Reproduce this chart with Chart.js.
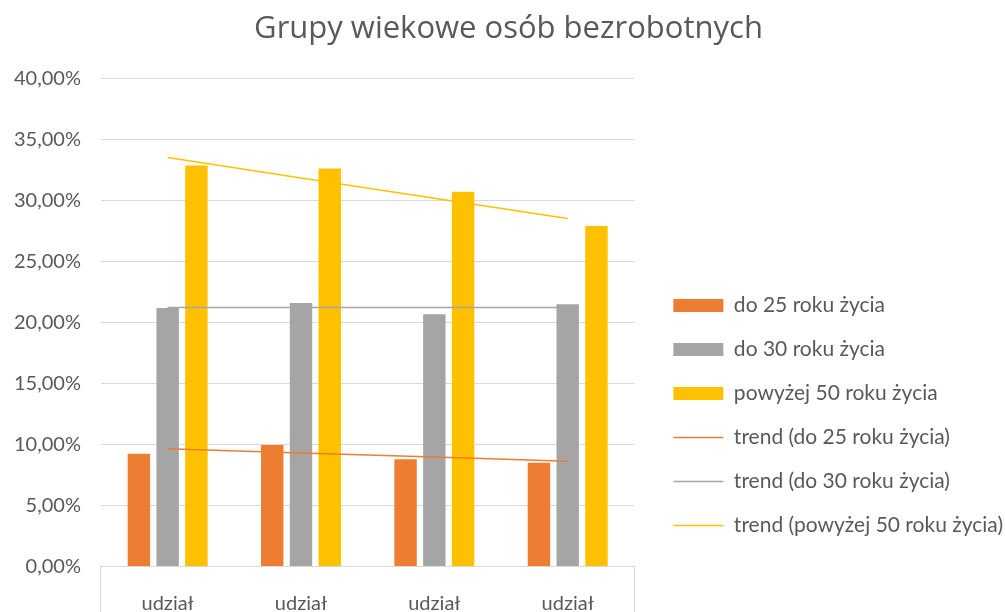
<!DOCTYPE html>
<html>
<head>
<meta charset="utf-8">
<script src="https://cdn.jsdelivr.net/npm/chart.js@4"></script>
<style>
  html, body { margin: 0; padding: 0; background: #fff; overflow: hidden; }
  #wrap { width: 1013px; height: 826px; }
</style>
</head>
<body>
<div id="wrap"><canvas id="chart" width="1013" height="826"></canvas></div>
<script>
// dane (w %)
const categories = ['udział', 'udział', 'udział', 'udział'];
const do25 = [9.24, 9.95, 8.80, 8.50];
const do30 = [21.17, 21.58, 20.66, 21.48];
const powyzej50 = [32.85, 32.60, 30.70, 27.90];
// linie trendu (odczytane w punktach kategorii)
const trend25 = [9.65, 9.31, 8.97, 8.63];
const trend30 = [21.22, 21.22, 21.22, 21.22];
const trend50 = [33.50, 31.83, 30.17, 28.50];
const yTicks = [0, 5, 10, 15, 20, 25, 30, 35, 40];

const FONT = 'Lato, "Open Sans", sans-serif';
const TXT = '#595959';
const ORANGE = '#ED7D31', GREY = '#A5A5A5', YELLOW = '#FFC000';

function barSet(label, data, color) {
    return {
        type: 'bar', label: label, data: data,
        backgroundColor: color, borderWidth: 0,
        categoryPercentage: 0.647, barPercentage: 0.78,
        pointStyle: 'rect', order: 1
    };
}
function trendSet(label, data, color) {
    return {
        type: 'line', label: label, data: data,
        borderColor: color, backgroundColor: color, borderWidth: 1.5,
        pointRadius: 0, pointHoverRadius: 0, pointStyle: 'line',
        fill: false, tension: 0, order: 0
    };
}

const ctx = document.getElementById('chart').getContext('2d');
new Chart(ctx, {
    data: {
        labels: categories,
        datasets: [
            barSet('do 25 roku życia', do25, ORANGE),
            barSet('do 30 roku życia', do30, GREY),
            barSet('powyżej 50 roku życia', powyzej50, YELLOW),
            trendSet('trend (do 25 roku życia)', trend25, ORANGE),
            trendSet('trend (do 30 roku życia)', trend30, GREY),
            trendSet('trend (powyżej 50 roku życia)', trend50, YELLOW)
        ]
    },
    options: {
        responsive: false,
        animation: false,
        layout: { padding: { left: 4, right: 0, top: 5, bottom: 0 } },
        plugins: {
            title: {
                display: true,
                text: 'Grupy wiekowe osób bezrobotnych',
                color: TXT,
                font: { family: '"Open Sans", sans-serif', size: 31, weight: 'normal' },
                padding: { top: 6, bottom: 30 }
            },
            legend: {
                position: 'right',
                align: 'center',
                maxWidth: 420,
                labels: {
                    usePointStyle: true,
                    pointStyleWidth: 50,
                    boxWidth: 50,
                    boxHeight: 13,
                    padding: 23,
                    color: TXT,
                    font: { family: FONT, size: 21 },
                    sort: (a, b) => a.datasetIndex - b.datasetIndex
                }
            },
            tooltip: { enabled: false }
        },
        scales: {
            x: {
                offset: true,
                border: { display: true, color: '#d9d9d9' },
                grid: {
                    offset: true,
                    drawOnChartArea: false,
                    drawTicks: true,
                    tickLength: 60,
                    color: c => (c.type !== 'tick' || c.index === 0) ? '#d9d9d9' : 'rgba(0,0,0,0)'
                },
                ticks: {
                    padding: -35,
                    color: TXT,
                    font: { family: FONT, size: 20 },
                    maxRotation: 0
                },
                // pusty tytuł osi - tylko żeby dolna część płótna była wyżej obcięta
                title: { display: true, text: '', padding: { top: 0, bottom: 231 } }
            },
            y: {
                min: 0, max: 40,
                afterBuildTicks: s => { s.ticks = yTicks.map(v => ({ value: v })); },
                border: { display: false },
                grid: { color: '#d9d9d9', drawTicks: true, tickLength: 10, tickColor: 'rgba(0,0,0,0)' },
                ticks: {
                    padding: 10,
                    color: TXT,
                    font: { family: FONT, size: 20 },
                    callback: v => v.toFixed(2).replace('.', ',') + '%'
                }
            },
            spacer: {
                type: 'linear',
                position: 'right',
                display: true,
                border: { display: false },
                grid: { display: false, drawTicks: false },
                ticks: { display: false },
                afterFit: s => { s.width = 16; }
            }
        }
    }
});
</script>
</body>
</html>
